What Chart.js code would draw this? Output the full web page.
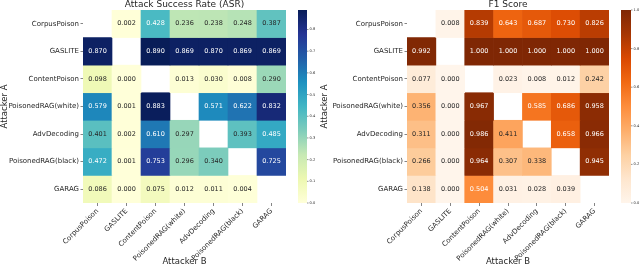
<!DOCTYPE html>
<html>
<head>
<meta charset="utf-8">
<script src="https://cdn.jsdelivr.net/npm/chart.js@4.4.1/dist/chart.umd.min.js"></script>
<style>
  html, body { margin: 0; padding: 0; background: #fff; }
  #wrap { position: relative; width: 640px; height: 268px; overflow: hidden; }
  canvas { position: absolute; top: 0; }
</style>
</head>
<body>
<div id="wrap">
  <canvas id="asr" width="320" height="268" style="left:0"></canvas>
  <canvas id="f1" width="320" height="268" style="left:320px"></canvas>
</div>
<script>
const attackers = ['CorpusPoison', 'GASLITE', 'ContentPoison', 'PoisonedRAG(white)', 'AdvDecoding', 'PoisonedRAG(black)', 'GARAG'];

// rows = Attacker A, columns = Attacker B (diagonal empty)
const asrValues = [
    [null, 0.002, 0.428, 0.236, 0.238, 0.248, 0.387],
    [0.870, null, 0.890, 0.869, 0.870, 0.869, 0.869],
    [0.098, 0.000, null, 0.013, 0.030, 0.008, 0.290],
    [0.579, 0.001, 0.883, null, 0.571, 0.622, 0.832],
    [0.401, 0.002, 0.610, 0.297, null, 0.393, 0.485],
    [0.472, 0.001, 0.753, 0.296, 0.340, null, 0.725],
    [0.086, 0.000, 0.075, 0.012, 0.011, 0.004, null]
];

const f1Values = [
    [null, 0.008, 0.839, 0.643, 0.687, 0.730, 0.826],
    [0.992, null, 1.000, 1.000, 1.000, 1.000, 1.000],
    [0.077, 0.000, null, 0.023, 0.008, 0.012, 0.242],
    [0.356, 0.000, 0.967, null, 0.585, 0.686, 0.958],
    [0.311, 0.000, 0.986, 0.411, null, 0.658, 0.966],
    [0.266, 0.000, 0.964, 0.307, 0.338, null, 0.945],
    [0.138, 0.000, 0.504, 0.031, 0.028, 0.039, null]
];

const asrTicks = [0, 0.1, 0.2, 0.3, 0.4, 0.5, 0.6, 0.7, 0.8];
const f1Ticks = [0, 0.2, 0.4, 0.6, 0.8, 1.0];

const YlGnBu = ['#ffffd9', '#edf8b1', '#c7e9b4', '#7fcdbb', '#41b6c4', '#1d91c0', '#225ea8', '#253494', '#081d58'];
const Oranges = ['#fff5eb', '#fee6ce', '#fdd0a2', '#fdae6b', '#fd8d3c', '#f16913', '#d94801', '#a63603', '#7f2704'];

const FONT = '"DejaVu Sans", sans-serif';
const INK = '#262626';

function hexRgb(h) {
    return [1, 3, 5].map(i => parseInt(h.slice(i, i + 2), 16));
}

function cmap(stops, t) {
    t = Math.max(0, Math.min(1, t));
    const p = t * (stops.length - 1);
    const i = Math.min(Math.floor(p), stops.length - 2);
    const f = p - i;
    const a = hexRgb(stops[i]), b = hexRgb(stops[i + 1]);
    return a.map((v, k) => Math.round(v + (b[k] - v) * f));
}

function rgbStr(c) {
    return `rgb(${c[0]}, ${c[1]}, ${c[2]})`;
}

// seaborn style annotation colour
function textColor(c) {
    const lin = c.map(v => {
        v = v / 255;
        return v <= 0.03928 ? v / 12.92 : Math.pow((v + 0.055) / 1.055, 2.4);
    });
    const lum = 0.2126 * lin[0] + 0.7152 * lin[1] + 0.0722 * lin[2];
    return lum > 0.408 ? INK : '#ffffff';
}

function makeDecor(title, values, stops, vmax, cbTicks, cbWidth) {
    return {
        id: 'decor',
        afterDatasetsDraw(chart) {
            const ctx = chart.ctx;
            const area = chart.chartArea;
            ctx.save();
            ctx.font = `6.5px ${FONT}`;
            ctx.textAlign = 'center';
            ctx.textBaseline = 'middle';
            chart.data.datasets.forEach((ds, r) => {
                chart.getDatasetMeta(r).data.forEach((el, c) => {
                    const v = values[r][c];
                    if (v === null) return;
                    ctx.fillStyle = textColor(cmap(stops, v / vmax));
                    ctx.fillText(v.toFixed(3), el.x, (el.y + el.base) / 2);
                });
            });

            // title
            ctx.fillStyle = INK;
            ctx.font = `9px ${FONT}`;
            ctx.fillText(title, (area.left + area.right) / 2, 4.5);

            // colour bar
            const x0 = area.right + 12;
            const top = area.top, bottom = area.bottom;
            const grad = ctx.createLinearGradient(0, bottom, 0, top);
            stops.forEach((s, i) => grad.addColorStop(i / (stops.length - 1), s));
            ctx.fillStyle = grad;
            ctx.fillRect(x0, top, cbWidth, bottom - top);
            ctx.strokeStyle = INK;
            ctx.lineWidth = 0.5;
            ctx.fillStyle = INK;
            ctx.font = `3.6px ${FONT}`;
            ctx.textAlign = 'left';
            cbTicks.forEach(t => {
                const y = bottom - (t / vmax) * (bottom - top);
                ctx.beginPath();
                ctx.moveTo(x0 + cbWidth, y);
                ctx.lineTo(x0 + cbWidth + 1.5, y);
                ctx.stroke();
                ctx.fillText(t.toFixed(1), x0 + cbWidth + 2.5, y);
            });
            ctx.restore();
        }
    };
}

function heatmap(id, title, values, stops, vmax, cbTicks, yWidth, areaWidth, cbWidth) {
    const datasets = values.map((row, r) => ({
        data: row.map(v => v === null ? null : [r, r + 1]),
        backgroundColor: row.map(v => v === null ? 'rgba(0,0,0,0)' : rgbStr(cmap(stops, v / vmax))),
        grouped: false,
        barPercentage: 1,
        categoryPercentage: 1,
        borderWidth: 0
    }));

    return new Chart(document.getElementById(id), {
        type: 'bar',
        data: { labels: attackers, datasets },
        options: {
            responsive: false,
            animation: false,
            events: [],
            layout: { padding: { left: 0, right: 320 - yWidth - areaWidth, top: 10, bottom: 0 } },
            plugins: {
                legend: { display: false },
                tooltip: { enabled: false },
                title: { display: false }
            },
            scales: {
                x: {
                    type: 'category',
                    offset: true,
                    grid: { display: true, drawOnChartArea: false, offset: false, tickLength: 3, color: '#333', lineWidth: 0.6 },
                    border: { display: false },
                    ticks: { font: { family: FONT, size: 7 }, color: INK, minRotation: 45, maxRotation: 45, autoSkip: false, padding: 1 },
                    title: { display: true, text: 'Attacker B', color: INK, font: { family: FONT, size: 8.5 }, padding: { top: 0, bottom: 1 } },
                    afterFit: s => { s.height = 65; }
                },
                y: {
                    type: 'linear',
                    min: 0,
                    max: attackers.length,
                    reverse: true,
                    afterBuildTicks: s => { s.ticks = attackers.map((_, i) => ({ value: i + 0.5 })); },
                    grid: { display: true, drawOnChartArea: false, tickLength: 2.5, color: '#333', lineWidth: 0.6 },
                    border: { display: false },
                    ticks: {
                        font: { family: FONT, size: 7 },
                        color: INK,
                        padding: 1.5,
                        callback: v => attackers[Math.floor(v)]
                    },
                    title: { display: true, text: 'Attacker A', color: INK, font: { family: FONT, size: 8.5 }, padding: { top: 0, bottom: 0 } },
                    afterFit: s => { s.width = yWidth; }
                }
            }
        },
        plugins: [makeDecor(title, values, stops, vmax, cbTicks, cbWidth)]
    });
}

heatmap('asr', 'Attack Success Rate (ASR)', asrValues, YlGnBu, 0.890, asrTicks, 83, 203, 9);
heatmap('f1', 'F1 Score', f1Values, Oranges, 1.0, f1Ticks, 87, 202, 10);
</script>
</body>
</html>
